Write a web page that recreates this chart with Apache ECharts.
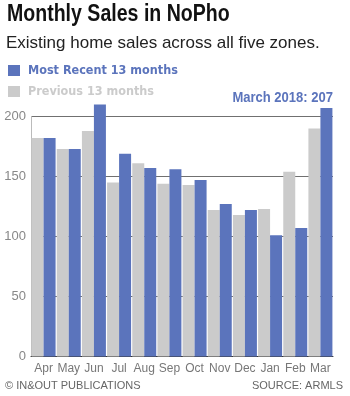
<!DOCTYPE html>
<html>
<head>
<meta charset="utf-8">
<script src="https://cdn.jsdelivr.net/npm/echarts@6/dist/echarts.min.js"></script>
<style>
html,body{margin:0;padding:0;background:#fff;}
#chart{width:350px;height:396px;}
</style>
</head>
<body>
<div id="chart"></div>
<script>
var months = ['Apr','May','Jun','Jul','Aug','Sep','Oct','Nov','Dec','Jan','Feb','Mar'];
var previous = [182,173,188,145,161,144,143,122,118,123,154,190];
var recent = [182,173,210,169,157,156,147,127,122,101,107,207];
var yMin = 0, yMax = 200, yStep = 50;

var NARROW = "'DejaVu Sans Condensed','Liberation Sans Narrow',sans-serif";
var SANS = "'Liberation Sans','Helvetica',Arial,sans-serif";
var BLUE = '#5b74bc', GRAY = '#cbcbcb';

var chart = echarts.init(document.getElementById('chart'), null, {renderer:'canvas'});
chart.setOption({
  backgroundColor:'#fff',
  animation:false,
  title:[
    {text:'Existing home sales across all five zones.', left:6, top:35, padding:0, textStyle:{fontFamily:SANS, fontWeight:'normal', fontSize:17, color:'#222'}},
    {text:'\u00A9 IN&OUT PUBLICATIONS', left:5, top:380, padding:0, textStyle:{fontFamily:SANS, fontWeight:'normal', fontSize:11, color:'#666'}},
    {text:'SOURCE: ARMLS', right:7, top:380, padding:0, textStyle:{fontFamily:SANS, fontWeight:'normal', fontSize:11, color:'#666'}}
  ],
  graphic:[
    {type:'text', x:7, y:3, scaleX:0.85, silent:true,
     style:{text:'Monthly Sales in NoPho', x:0, y:0, align:'left', verticalAlign:'top', font:"bold 23px 'Liberation Sans',Arial,sans-serif", fill:'#111'}},
    {type:'text', x:333, y:91, scaleX:0.93, silent:true,
     style:{text:'March 2018: 207', x:0, y:0, align:'right', verticalAlign:'top', font:"bold 14px 'Liberation Sans',Arial,sans-serif", fill:BLUE}}
  ],
  legend:{
    orient:'vertical', left:8, top:64, padding:0, itemGap:8, itemWidth:12, itemHeight:11, icon:'rect',
    selectedMode:false,
    textStyle:{fontFamily:NARROW, fontWeight:'bold', fontSize:12.5, padding:[0,0,0,3]},
    data:[
      {name:'Most Recent 13 months', textStyle:{color:BLUE}},
      {name:'Previous 13 months', textStyle:{color:GRAY}}
    ]
  },
  grid:{left:31, right:17, top:116.5, bottom:39.5, containLabel:false},
  xAxis:{
    type:'category', data:months, boundaryGap:true,
    axisLine:{show:true, lineStyle:{color:'#333', width:1}},
    axisTick:{show:false},
    axisLabel:{interval:0, fontFamily:SANS, fontSize:12, color:'#777', margin:6}
  },
  yAxis:{
    type:'value', min:yMin, max:yMax, interval:yStep,
    axisLine:{show:true, lineStyle:{color:'#bbb'}},
    axisTick:{show:false},
    axisLabel:{fontFamily:SANS, fontSize:13, color:'#888', margin:5},
    splitLine:{show:true, lineStyle:{color:'#707070', width:1}}
  },
  series:[
    {name:'Previous 13 months', type:'bar', data:previous, barWidth:12, barGap:'0%', clip:false, itemStyle:{color:GRAY}},
    {name:'Most Recent 13 months', type:'bar', data:recent, barWidth:12, barGap:'0%', clip:false, itemStyle:{color:BLUE}}
  ]
});
</script>
</body>
</html>
